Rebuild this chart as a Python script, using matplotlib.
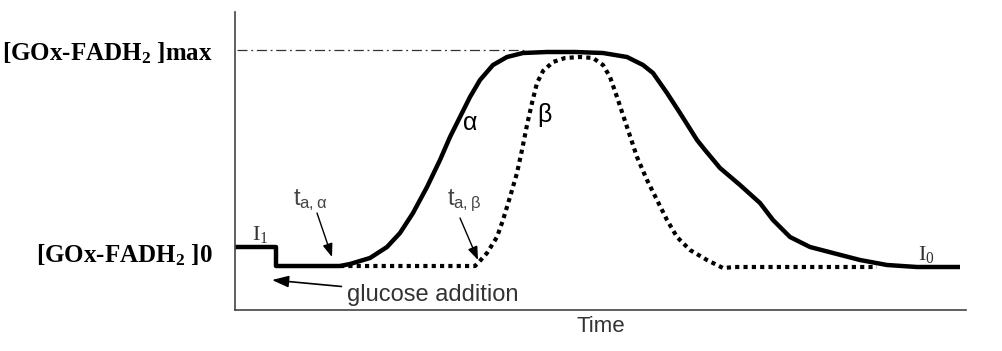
import matplotlib.pyplot as plt

plt.rcParams['mathtext.default'] = 'regular'

# time / level in arbitrary units (0 = axis origin)
alpha_t = [0, 41, 41, 105, 115, 135, 152, 165, 178, 192, 205, 215, 225, 235,
           245, 258, 272, 288, 312, 340, 368, 392, 408, 418, 432, 445, 462,
           470, 485, 505, 525, 538, 555, 575, 598, 625, 652, 682, 725]
alpha_c = [63, 63, 44, 44, 46, 52, 63, 77, 97, 123, 150, 173, 193, 213,
           230, 245, 253, 257, 258, 258, 257, 253, 245, 237, 217, 197, 170,
           160, 142, 125, 107, 90, 73, 63, 57, 50, 45, 43, 43]

beta_t = [105, 240, 244, 252, 262, 268, 275, 282, 287, 292, 297, 302, 308,
          318, 330, 345, 358, 368, 375, 382, 392, 402, 412, 422, 432, 442,
          455, 472, 488, 500, 642]
beta_c = [44, 44, 48, 57, 73, 90, 113, 137, 160, 185, 207, 227, 239,
          248, 252, 253, 252, 245, 233, 213, 183, 153, 130, 110, 90, 73,
          60, 50, 42, 43, 43]

c_max = 260
c_zero = 58
ylabels = ['[GOx-FADH$_2$ ]0', '[GOx-FADH$_2$ ]max']

fig = plt.figure(figsize=(10.02, 3.51), dpi=100)
ax = fig.add_axes([235 / 1002, 41 / 351, 731 / 1002, 298 / 351])
ax.set_xlim(0, 731)
ax.set_ylim(0, 298)

ax.plot(alpha_t, alpha_c, color='black', lw=3.2, solid_joinstyle='round',
        solid_capstyle='butt')
ax.plot(beta_t, beta_c, color='black', lw=3.0, linestyle=(0, (1, 1)),
        dash_capstyle='butt', dash_joinstyle='round')
ax.plot([2, 290], [c_max, c_max], color='#333333', lw=0.9,
        linestyle=(0, (8, 3, 1.5, 3)))

for s in ['top', 'right']:
    ax.spines[s].set_visible(False)
for s in ['left', 'bottom']:
    ax.spines[s].set_color('#444444')
    ax.spines[s].set_linewidth(1.2)

ax.set_xticks([])
ax.set_yticks([c_zero, c_max])
ax.set_yticklabels(ylabels, family='Liberation Serif', fontweight='bold',
                   fontsize=18)
ax.tick_params(axis='y', length=0, pad=16)
ax.set_xlabel('Time', family='Liberation Sans', fontsize=16, color='#333333',
              labelpad=4)

serif = dict(family='Liberation Serif', fontsize=16, color='#333333')
sans = dict(family='Liberation Sans', color='#444444')

ax.text(17, 70, 'I$_1$', ha='left', va='baseline', **serif)
ax.text(683, 50, 'I$_0$', ha='left', va='baseline', **serif)
ax.text(227, 180, r'$\alpha$', ha='left', va='baseline', fontsize=18,
        family='Liberation Sans', color='black')
ax.text(310, 195, r'$\beta$', ha='center', va='center', fontsize=18,
        family='Liberation Sans', color='black')

ax.text(58, 105, r't$_{a,\alpha}$', ha='left', va='baseline', fontsize=17, **sans)
ax.text(212, 105, r't$_{a,\beta}$', ha='left', va='baseline', fontsize=17, **sans)

arrow_small = dict(arrowstyle='-|>,head_length=0.8,head_width=0.3',
                   color='black', lw=1.0, mutation_scale=10,
                   shrinkA=0, shrinkB=0)
ax.annotate('', xy=(97, 53), xytext=(82, 97), arrowprops=arrow_small)
ax.annotate('', xy=(243, 50), xytext=(225, 92), arrowprops=arrow_small)

ax.annotate('glucose addition', xy=(37, 30), xytext=(112, 15),
            ha='left', va='center', fontsize=17, family='Liberation Sans',
            color='#333333',
            arrowprops=dict(arrowstyle='-|>,head_length=1.0,head_width=0.35',
                            color='black', lw=1.2, mutation_scale=10,
                            shrinkA=2, shrinkB=0))

fig.savefig('out.png', dpi=100)
